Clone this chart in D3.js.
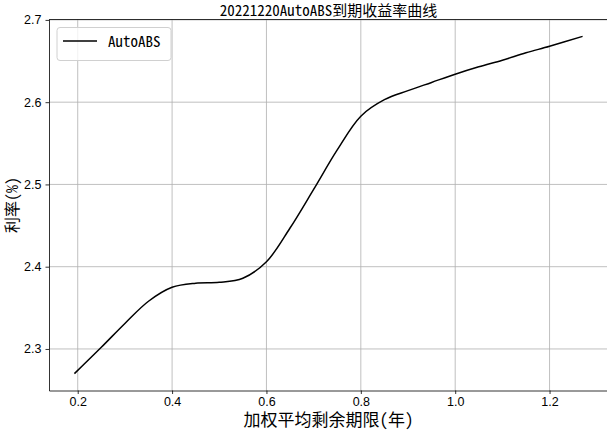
<!DOCTYPE html>
<html lang="zh">
<head>
<meta charset="utf-8">
<script src="https://d3js.org/d3.v7.min.js"></script>
<style>
  body { margin: 0; background: #fff; }
  svg { display: block; font-family: "Noto Sans Mono CJK SC", "Noto Sans CJK SC", sans-serif; }
  .grid line { stroke: #b0b0b0; stroke-width: 0.8; }
  .axis path, .axis line { stroke: #000; stroke-width: 0.8; }
  .axis text { font-size: 12.5px; fill: #000; }
</style>
</head>
<body>
<svg width="607" height="430"></svg>
<script>
  // 加权平均剩余期限(年) vs 利率(%)
  var terms = [0.193, 0.25, 0.30, 0.35, 0.40, 0.45, 0.50, 0.55, 0.60, 0.65, 0.70, 0.75,
               0.80, 0.85, 0.90, 0.95, 1.00, 1.05, 1.10, 1.15, 1.20, 1.27];
  var rates = [2.270, 2.302, 2.331, 2.358, 2.375, 2.380, 2.381, 2.386, 2.406, 2.447, 2.494, 2.542,
               2.583, 2.603, 2.614, 2.624, 2.634, 2.643, 2.651, 2.660, 2.668, 2.680];
  var xTicks = [0.2, 0.4, 0.6, 0.8, 1.0, 1.2];
  var yTicks = [2.3, 2.4, 2.5, 2.6, 2.7];
  var seriesName = "AutoABS";

  var margin = { top: 19.5, right: -1, bottom: 39.5, left: 49 };
  var width = 607 - margin.left - margin.right;
  var height = 430 - margin.top - margin.bottom;

  var svg = d3.select("svg");
  var g = svg.append("g").attr("transform", "translate(" + margin.left + "," + margin.top + ")");

  function padded(ext) {
    var p = (ext[1] - ext[0]) * 0.05;
    return [ext[0] - p, ext[1] + p];
  }

  var x = d3.scaleLinear().domain(padded(d3.extent(terms))).range([0, width]);
  var y = d3.scaleLinear().domain(padded(d3.extent(rates))).range([height, 0]);

  // grid
  g.append("g").attr("class", "grid")
    .selectAll("line").data(xTicks).enter().append("line")
    .attr("x1", function (d) { return x(d); }).attr("x2", function (d) { return x(d); })
    .attr("y1", 0).attr("y2", height);
  g.append("g").attr("class", "grid")
    .selectAll("line").data(yTicks).enter().append("line")
    .attr("y1", function (d) { return y(d); }).attr("y2", function (d) { return y(d); })
    .attr("x1", 0).attr("x2", width);

  // line
  var data = terms.map(function (t, i) { return [t, rates[i]]; });
  var line = d3.line()
    .x(function (d) { return x(d[0]); })
    .y(function (d) { return y(d[1]); })
    .curve(d3.curveCatmullRom.alpha(0.5));

  g.append("path")
    .datum(data)
    .attr("fill", "none")
    .attr("stroke", "#000")
    .attr("stroke-width", 1.5)
    .attr("d", line);

  // axes
  g.append("g").attr("class", "axis")
    .attr("transform", "translate(0," + height + ")")
    .call(d3.axisBottom(x).tickValues(xTicks).tickSizeInner(3.5).tickSizeOuter(0).tickPadding(3).tickFormat(d3.format(".1f")));
  g.append("g").attr("class", "axis")
    .call(d3.axisLeft(y).tickValues(yTicks).tickSizeInner(3.5).tickSizeOuter(0).tickPadding(4).tickFormat(d3.format(".1f")));

  // top spine
  g.append("line").attr("x1", 0).attr("x2", width).attr("y1", 0).attr("y2", 0)
    .attr("stroke", "#000").attr("stroke-width", 0.8);

  // title & labels
  svg.append("text")
    .attr("x", margin.left + width / 2).attr("y", 15.5)
    .attr("text-anchor", "middle").style("font-size", "15px")
    .text("20221220AutoABS到期收益率曲线");

  svg.append("text")
    .attr("x", margin.left + width / 2).attr("y", 425.5)
    .attr("text-anchor", "middle").style("font-size", "17px")
    .text("加权平均剩余期限(年)");

  svg.append("text")
    .attr("transform", "translate(17.5," + (margin.top + height / 2) + ") rotate(-90)")
    .attr("text-anchor", "middle").style("font-size", "16px")
    .text("利率(%)");

  // legend
  var lg = g.append("g").attr("transform", "translate(8,8)");
  lg.append("rect")
    .attr("width", 114).attr("height", 33).attr("rx", 3)
    .attr("fill", "#fff").attr("fill-opacity", 0.8)
    .attr("stroke", "#d0d0d0").attr("stroke-width", 1);
  lg.append("line")
    .attr("x1", 6).attr("x2", 40).attr("y1", 13.5).attr("y2", 13.5)
    .attr("stroke", "#000").attr("stroke-width", 1.5);
  lg.append("text")
    .attr("x", 51).attr("y", 19)
    .style("font-size", "15px")
    .text(seriesName);
</script>
</body>
</html>
